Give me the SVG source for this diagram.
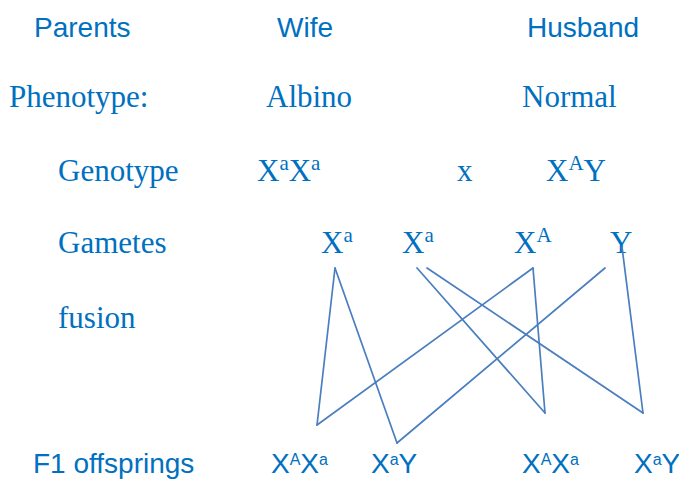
<svg xmlns="http://www.w3.org/2000/svg" width="679" height="481" viewBox="0 0 679 481">
<style>
  .sans { font-family: "Liberation Sans", Arial, sans-serif; font-size: 28px; fill: #0070C0; }
  .serif { font-family: "Liberation Serif", "Times New Roman", serif; font-size: 31px; fill: #0070C0; }
  .sup-serif { font-size: 21px; }
  .sup-sans { font-size: 16px; }
  .conn line { stroke: #4A7EBF; stroke-width: 1.7; fill: none; stroke-linecap: round; }
</style>
<rect width="679" height="481" fill="#ffffff"/>

<g id="row-labels">
  <text class="sans" x="34" y="37">Parents</text>
  <text class="serif" x="9" y="107">Phenotype:</text>
  <text class="serif" x="58" y="181">Genotype</text>
  <text class="serif" x="58" y="253">Gametes</text>
  <text class="serif" x="58" y="328">fusion</text>
  <text class="sans" x="33" y="473">F1 offsprings</text>
</g>

<g id="wife">
  <text class="sans" x="277" y="37">Wife</text>
  <text class="serif" x="266" y="107">Albino</text>
  <text class="serif" x="257" y="181">X<tspan class="sup-serif" dy="-11">a</tspan><tspan dy="11">X</tspan><tspan class="sup-serif" dy="-11">a</tspan></text>
</g>

<g id="cross">
  <text class="serif" x="457" y="181">x</text>
</g>

<g id="husband">
  <text class="sans" x="527" y="37">Husband</text>
  <text class="serif" x="522" y="107">Normal</text>
  <text class="serif" x="546" y="181">X<tspan class="sup-serif" dy="-11">A</tspan><tspan dy="11">Y</tspan></text>
</g>

<g id="gamete-xa1"><text class="serif" x="321" y="253">X<tspan class="sup-serif" dy="-11">a</tspan></text></g>
<g id="gamete-xa2"><text class="serif" x="402" y="253">X<tspan class="sup-serif" dy="-11">a</tspan></text></g>
<g id="gamete-XA"><text class="serif" x="514" y="253">X<tspan class="sup-serif" dy="-11">A</tspan></text></g>
<g id="gamete-Y"><text class="serif" x="610" y="253">Y</text></g>

<g id="f1-1"><text class="sans" x="271" y="473">X<tspan class="sup-sans" dy="-8">A</tspan><tspan dy="8">X</tspan><tspan class="sup-sans" dy="-8">a</tspan></text></g>
<g id="f1-2"><text class="sans" x="371" y="473">X<tspan class="sup-sans" dy="-8">a</tspan><tspan dy="8">Y</tspan></text></g>
<g id="f1-3"><text class="sans" x="522" y="473">X<tspan class="sup-sans" dy="-8">A</tspan><tspan dy="8">X</tspan><tspan class="sup-sans" dy="-8">a</tspan></text></g>
<g id="f1-4"><text class="sans" x="634" y="473">X<tspan class="sup-sans" dy="-8">a</tspan><tspan dy="8">Y</tspan></text></g>

<g id="connectors" class="conn">
  <line x1="335" y1="268" x2="317" y2="425"/>
  <line x1="317" y1="425" x2="533" y2="268"/>
  <line x1="335" y1="268" x2="397" y2="443"/>
  <line x1="397" y1="443" x2="605" y2="268"/>
  <line x1="417" y1="268" x2="545" y2="413"/>
  <line x1="533" y1="268" x2="545" y2="413"/>
  <line x1="427" y1="268" x2="643" y2="413"/>
  <line x1="622" y1="247" x2="643" y2="413"/>
</g>
</svg>
